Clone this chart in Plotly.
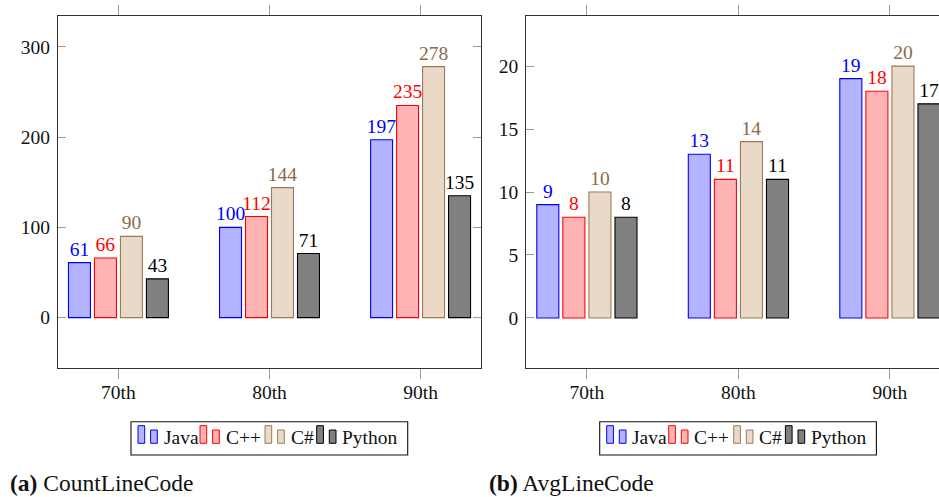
import plotly.graph_objects as go

W, H = 939, 497

categories = ["70th", "80th", "90th"]
series_names = ["Java", "C++", "C#", "Python"]

count_java = [61, 100, 197]
count_cpp = [66, 112, 235]
count_cs = [90, 144, 278]
count_python = [43, 71, 135]

avg_java = [9, 13, 19]
avg_cpp = [8, 11, 18]
avg_cs = [10, 14, 20]
avg_python = [8, 11, 17]

count_ticks = [0, 100, 200, 300]
avg_ticks = [0, 5, 10, 15, 20]

captions = ["<b>(a)</b> CountLineCode", "<b>(b)</b> AvgLineCode"]

fills = ["#b3b3ff", "#ffb3b3", "#ead9c6", "#808080"]
edges = ["#0000ff", "#ff0000", "#9b7a58", "#000000"]
label_colors = ["#0000ff", "#ff0000", "#8b6a47", "#000000"]

FONT = "Liberation Serif, Times New Roman, serif"
FS = 19.5


def px(x):
    return x / W


def py(y):
    return 1 - y / H


fig = go.Figure()

panels = [
    ("x", "y", [count_java, count_cpp, count_cs, count_python]),
    ("x2", "y2", [avg_java, avg_cpp, avg_cs, avg_python]),
]
for xa, ya, values in panels:
    for i, name in enumerate(series_names):
        fig.add_trace(go.Bar(
            x=categories, y=values[i], name=name, xaxis=xa, yaxis=ya,
            marker=dict(color=fills[i], line=dict(color=edges[i], width=1.1)),
            texttemplate="%{y}", textposition="outside", cliponaxis=False,
            constraintext="none",
            textfont=dict(family=FONT, size=FS, color=label_colors[i]),
            showlegend=False, hoverinfo="skip",
        ))

axis_common = dict(showline=True, linecolor="#333333", linewidth=1.2,
                   showgrid=False, zeroline=False, tickcolor="#9a9a9a",
                   tickwidth=1, tickfont=dict(family=FONT, size=FS, color="#111"))

top, bottom = 15.7, 367.7
fig.update_layout(
    width=W, height=H, margin=dict(l=0, r=0, t=0, b=0),
    paper_bgcolor="white", plot_bgcolor="white",
    bargap=0.312, bargroupgap=0.154, barmode="group",
    xaxis=dict(domain=[px(58), px(481)], range=[-0.4, 2.4], anchor="y",
               ticks="outside", ticklen=10, mirror="ticks", ticklabelstandoff=-3,
               **axis_common),
    yaxis=dict(domain=[py(bottom), py(top)], range=[-55.4, 334.4], anchor="x",
               tickvals=count_ticks, ticks="inside", ticklen=8, mirror="ticks",
               ticklabelstandoff=3, **axis_common),
    xaxis2=dict(domain=[px(526.3), 1.0], range=[-0.4, 2.324], anchor="y2",
                ticks="outside", ticklen=10, mirror="ticks", ticklabelstandoff=-3,
                **axis_common),
    yaxis2=dict(domain=[py(bottom), py(top)], range=[-3.95, 24.0], anchor="x2",
                tickvals=avg_ticks, ticks="inside", ticklen=8, mirror=False,
                ticklabelstandoff=3, **axis_common),
)

# manual legends (pgfplots-style two-bar icons)
shapes = []
annotations = []
legend_lefts = [131.0, 599.7]
box_w = 276.7
item_offsets = [7.0, 69.0, 134.0, 185.7]
for L in legend_lefts:
    shapes.append(dict(type="rect", xref="paper", yref="paper",
                       x0=px(L), x1=px(L + box_w), y0=py(455.0), y1=py(421.7),
                       line=dict(color="#111", width=1.1), fillcolor="white", layer="above"))
    for i, name in enumerate(series_names):
        x0 = L + item_offsets[i]
        shapes.append(dict(type="rect", xref="paper", yref="paper",
                           x0=px(x0), x1=px(x0 + 6.7), y0=py(443.3), y1=py(425.7),
                           line=dict(color=edges[i], width=1), fillcolor=fills[i], layer="above"))
        shapes.append(dict(type="rect", xref="paper", yref="paper",
                           x0=px(x0 + 12.6), x1=px(x0 + 19.3), y0=py(443.3), y1=py(430.0),
                           line=dict(color=edges[i], width=1), fillcolor=fills[i], layer="above"))
        annotations.append(dict(text=name, xref="paper", yref="paper",
                                x=px(x0 + 23.5), y=py(437.5), xanchor="left", yanchor="middle",
                                showarrow=False,
                                font=dict(family=FONT, size=FS, color="#111")))

for cap, xl in zip(captions, [8.0, 486.5]):
    annotations.append(dict(text=cap, xref="paper", yref="paper", x=px(xl), y=py(482.5),
                            xanchor="left", yanchor="middle", showarrow=False,
                            font=dict(family=FONT, size=23.5, color="#111")))

fig.update_layout(shapes=shapes, annotations=annotations)
fig.write_html("out.html", config={"displayModeBar": False},
               post_script="document.body.style.margin='0';document.body.style.overflow='hidden';")
